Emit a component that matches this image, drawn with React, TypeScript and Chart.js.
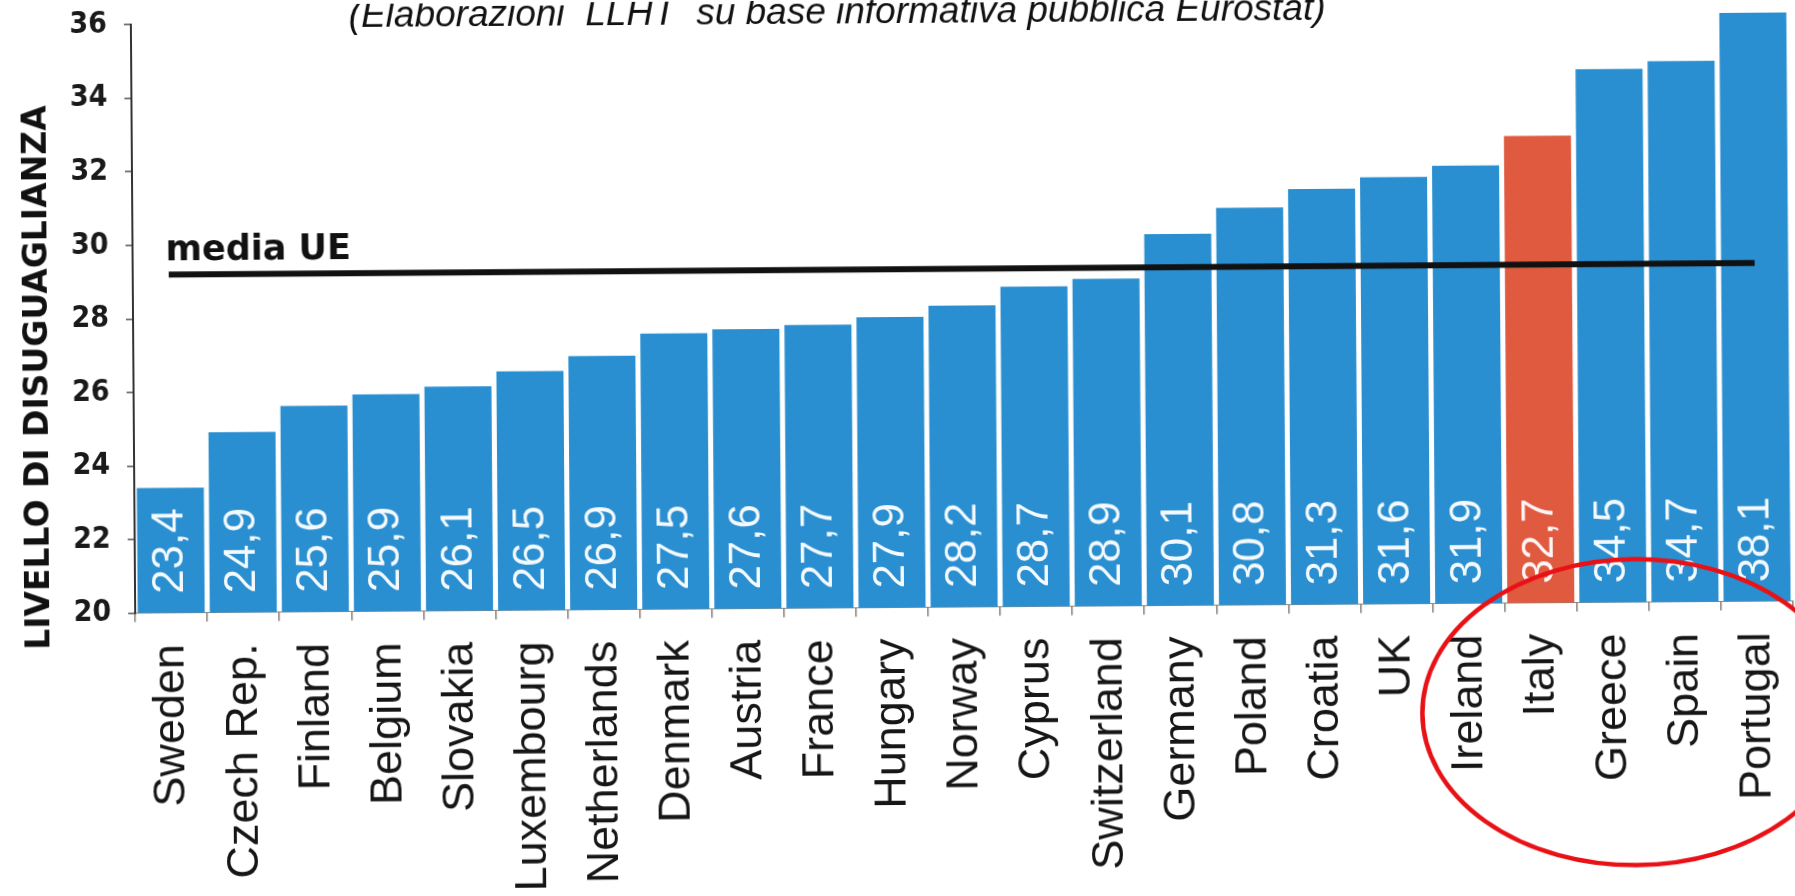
import React, { useEffect, useRef } from "react";
import { Chart, registerables } from "chart.js";

Chart.register(...registerables);

// Inequality index by country (ascending), EU average and axis ticks
const countries = [
  "Sweden", "Czech Rep.", "Finland", "Belgium", "Slovakia", "Luxembourg",
  "Netherlands", "Denmark", "Austria", "France", "Hungary", "Norway",
  "Cyprus", "Switzerland", "Germany", "Poland", "Croatia", "UK",
  "Ireland", "Italy", "Greece", "Spain", "Portugal",
];
const inequality = [
  23.4, 24.9, 25.6, 25.9, 26.1, 26.5, 26.9, 27.5, 27.6, 27.7, 27.9, 28.2,
  28.7, 28.9, 30.1, 30.8, 31.3, 31.6, 31.9, 32.7, 34.5, 34.7, 38.1,
];
const euAverage = 29.2;
const yTickValues = [20, 22, 24, 26, 28, 30, 32, 34, 36];
const highlighted = "Italy";
const circledNear = "Greece";

const SUBTITLE = "(Elaborazioni  LLHT  su base informativa pubblica Eurostat)";
const Y_TITLE = "LIVELLO DI DISUGUAGLIANZA";
const EU_LABEL = "media UE";

const BLUE = "#2a8fd1";
const RED = "#e05a40";
const SANS = '"Liberation Sans", Arial, sans-serif';
const WIDE = '"DejaVu Sans", Verdana, sans-serif';
const NARROW_BOLD = '"DejaVu Sans Condensed", "Liberation Sans", Arial, sans-serif';

const formatValue = (v: number) => v.toFixed(1).replace(".", ",");

const annotations = {
  id: "annotations",
  afterDatasetsDraw(chart: any) {
    const { ctx, chartArea, scales } = chart;
    const bars = chart.getDatasetMeta(0).data;

    // value labels inside each bar, written bottom-to-top
    ctx.save();
    ctx.fillStyle = "rgba(255,255,255,0.95)";
    ctx.font = `44px ${SANS}`;
    ctx.textAlign = "left";
    ctx.textBaseline = "middle";
    bars.forEach((bar: any, i: number) => {
      ctx.save();
      ctx.translate(bar.x, chartArea.bottom - 19);
      ctx.rotate(-Math.PI / 2);
      ctx.fillText(formatValue(inequality[i]), 0, 0);
      ctx.restore();
    });
    ctx.restore();

    // EU average label above the line
    ctx.save();
    ctx.fillStyle = "#111";
    ctx.font = `bold 35px ${WIDE}`;
    ctx.textAlign = "left";
    ctx.textBaseline = "alphabetic";
    ctx.fillText(
      EU_LABEL,
      scales.x.getPixelForValue(0) - 3,
      scales.y.getPixelForValue(euAverage) - 14
    );
    ctx.restore();
  },
  afterDraw(chart: any) {
    const { ctx, chartArea, scales } = chart;

    // source note
    ctx.save();
    ctx.fillStyle = "#111";
    ctx.font = `italic 37px ${SANS}`;
    ctx.textAlign = "center";
    ctx.textBaseline = "alphabetic";
    ctx.fillText(
      SUBTITLE,
      chartArea.left + (chartArea.right - chartArea.left) * 0.426,
      23
    );
    ctx.restore();

    // vertical axis title
    ctx.save();
    ctx.fillStyle = "#111";
    ctx.font = `bold 33px ${WIDE}`;
    ctx.textAlign = "center";
    ctx.textBaseline = "middle";
    ctx.translate(39, (chartArea.top + chartArea.bottom) / 2 + 58);
    ctx.rotate(-Math.PI / 2);
    ctx.fillText(Y_TITLE, 0, 0);
    ctx.restore();

    // red ring around the southern European group
    const idx = countries.indexOf(circledNear);
    const step = (chartArea.right - chartArea.left) / countries.length;
    const cx = scales.x.getPixelForValue(idx) + step * 0.3;
    const cy = chartArea.bottom + 110;
    ctx.save();
    ctx.strokeStyle = "rgb(232,18,22)";
    ctx.lineWidth = 4.5;
    ctx.beginPath();
    ctx.ellipse(cx, cy, 213, 153, 0, 0, Math.PI * 2);
    ctx.stroke();
    ctx.restore();
  },
};

export default function App() {
  const ref = useRef<HTMLCanvasElement>(null);

  useEffect(() => {
    const canvas = ref.current;
    if (!canvas) return;
    const chart = new Chart(canvas, {
      type: "bar",
      data: {
        labels: countries,
        datasets: [
          {
            type: "bar",
            data: inequality,
            backgroundColor: countries.map((c) => (c === highlighted ? RED : BLUE)),
            borderWidth: 0,
            barPercentage: 0.93,
            categoryPercentage: 1,
            clip: 0,
            order: 1,
          } as any,
          {
            type: "line",
            data: countries.map(() => euAverage),
            borderColor: "#111",
            borderWidth: 6,
            pointRadius: 0,
            fill: false,
            order: 0,
          } as any,
        ],
      },
      options: {
        responsive: false,
        animation: false,
        devicePixelRatio: 1,
        layout: { padding: { top: 19, right: 3, bottom: 0, left: 0 } },
        plugins: {
          legend: { display: false },
          tooltip: { enabled: false },
          title: { display: false },
        },
        scales: {
          x: {
            grid: {
              offset: true,
              drawOnChartArea: false,
              tickLength: 9,
              color: "#8a7f77",
              lineWidth: 1.5,
            },
            border: { display: true, color: "#8a8a8a", width: 1 },
            ticks: {
              autoSkip: false,
              minRotation: 90,
              maxRotation: 90,
              padding: 22,
              color: "#161616",
              font: { family: SANS, size: 45 },
            },
            afterFit: (s: any) => {
              s.height = 288.4;
              s.paddingLeft = 0;
              s.paddingRight = 0;
            },
          },
          y: {
            min: 20,
            max: 36,
            afterBuildTicks: (s: any) => {
              s.ticks = yTickValues.map((v) => ({ value: v }));
            },
            grid: {
              drawOnChartArea: false,
              tickLength: 7,
              color: "#555",
              lineWidth: 1.5,
            },
            border: { display: true, color: "#333", width: 2 },
            ticks: {
              padding: 17,
              color: "#1a1a1a",
              font: { family: NARROW_BOLD, size: 30, weight: "bold" },
              callback: (v: any) => String(v),
            },
            afterFit: (s: any) => {
              s.width = 134;
              s.paddingTop = 0;
              s.paddingBottom = 0;
            },
          },
        },
      },
      plugins: [annotations],
    } as any);
    return () => chart.destroy();
  }, []);

  return (
    <div
      style={{
        position: "fixed",
        left: 0,
        top: 0,
        width: 1795,
        height: 896,
        background: "#fff",
        transform: "rotate(-0.42deg)",
        transformOrigin: "50% 50%",
      }}
    >
      <canvas
        ref={ref}
        width={1795}
        height={896}
        style={{ width: 1795, height: 896, display: "block" }}
      />
    </div>
  );
}
